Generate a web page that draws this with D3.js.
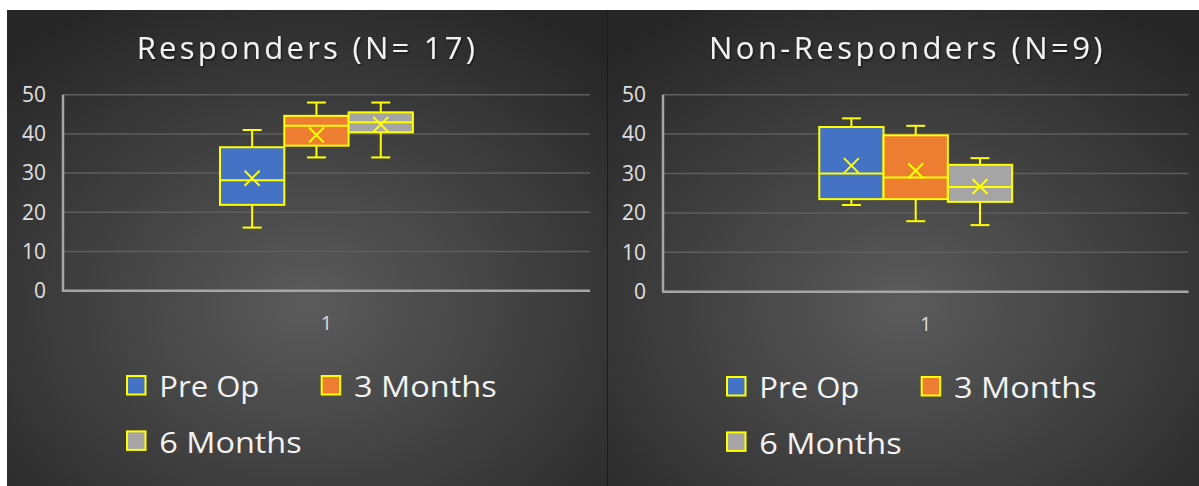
<!DOCTYPE html>
<html>
<head>
<meta charset="utf-8">
<script src="https://cdn.jsdelivr.net/npm/d3@7"></script>
<style>
  html, body { margin: 0; padding: 0; background: #ffffff; }
  svg { display: block; }
  text { font-family: "Open Sans", "DejaVu Sans", sans-serif; }
</style>
</head>
<body>
<svg id="chart" width="1199" height="486"></svg>
<script>
// ---------- data ----------
const categories = ["1"];
const seriesNames = ["Pre Op", "3 Months", "6 Months"];
const seriesColors = ["#4472C4", "#ED7D31", "#A5A5A5"];
const yTicks = [0, 10, 20, 30, 40, 50];

const panelTitles = ["Responders (N= 17)", "Non-Responders (N=9)"];

// Responders: five-number summary + mean per series
const respMin    = [16.1, 34.0, 34.0];
const respQ1     = [21.9, 37.0, 40.4];
const respMedian = [28.2, 42.1, 43.0];
const respQ3     = [36.6, 44.6, 45.5];
const respMax    = [41.0, 48.0, 48.0];
const respMean   = [28.7, 39.7, 42.4];

// Non-responders
const nonMin    = [22.0, 17.9, 16.9];
const nonQ1     = [23.5, 23.5, 22.8];
const nonMedian = [30.0, 29.0, 26.6];
const nonQ3     = [41.8, 39.7, 32.2];
const nonMax    = [44.0, 42.1, 33.9];
const nonMean   = [32.0, 30.7, 26.7];

const panelsData = [
  {title: panelTitles[0], min: respMin, q1: respQ1, med: respMedian, q3: respQ3, max: respMax, mean: respMean},
  {title: panelTitles[1], min: nonMin, q1: nonQ1, med: nonMedian, q3: nonQ3, max: nonMax, mean: nonMean}
];

// ---------- layout ----------
const svg = d3.select("#chart");
const defs = svg.append("defs");
const grad = defs.append("radialGradient").attr("id", "bg")
  .attr("cx", "50%").attr("cy", "62%").attr("r", "72%");
grad.append("stop").attr("offset", "0%").attr("stop-color", "#5b5b5b");
grad.append("stop").attr("offset", "100%").attr("stop-color", "#262626");

const shadow = defs.append("filter").attr("id", "tshadow")
  .attr("x", "-10%").attr("y", "-30%").attr("width", "120%").attr("height", "160%");
shadow.append("feDropShadow").attr("dx", 1).attr("dy", 1.5).attr("stdDeviation", 1.2)
  .attr("flood-color", "#000").attr("flood-opacity", 0.6);

const panels = [
  {x: 7, w: 601, titleX0: 136.7, titleX1: 475, legendDy: 0},
  {x: 608, w: 591, titleX0: 709, titleX1: 1102.5, legendDy: 1}
];

const plotTop = 94.7;
const yellow = "#FFFF00";

panels.forEach((p, pi) => {
  const d = panelsData[pi];
  const g = svg.append("g");
  g.append("rect").attr("x", p.x).attr("y", 10).attr("width", p.w).attr("height", 476)
    .attr("fill", "url(#bg)");

  const left = p.x + (pi === 0 ? 56 : 55), right = p.x + (pi === 0 ? 583 : 580.5);
  const bottom = pi === 0 ? 290.7 : 291.7;

  const y = d3.scaleLinear().domain([0, 50]).range([bottom, plotTop]);
  const x = d3.scaleBand().domain(categories).range([left, right]).padding(0);

  // title
  g.append("text")
    .attr("x", p.titleX0).attr("y", 59)
    .attr("font-size", 31).attr("fill", "#f2f2f2")
    .attr("textLength", p.titleX1 - p.titleX0).attr("lengthAdjust", "spacing")
    .attr("filter", "url(#tshadow)")
    .text(d.title);

  // gridlines
  g.selectAll("line.grid").data(yTicks.filter(t => t > 0)).enter().append("line")
    .attr("class", "grid")
    .attr("x1", left).attr("x2", right)
    .attr("y1", t => y(t)).attr("y2", t => y(t))
    .attr("stroke", "#5e5e5e").attr("stroke-width", 1.5);

  // y axis
  const yAxis = d3.axisLeft(y).tickValues(yTicks).tickSize(0).tickPadding(17);
  const ya = g.append("g").attr("transform", `translate(${left},0)`).call(yAxis);
  ya.select(".domain").remove();
  ya.selectAll("text").attr("font-size", 21).attr("fill", "#e0e0e0")
    .attr("font-family", "'Open Sans', sans-serif");

  // x axis
  const xAxis = d3.axisBottom(x).tickSize(0).tickPadding(25);
  const xa = g.append("g").attr("transform", `translate(0,${bottom})`).call(xAxis);
  xa.select(".domain").remove();
  xa.selectAll("text").attr("font-size", 20).attr("fill", "#d9d9d9")
    .attr("font-family", "'Open Sans', sans-serif");

  // axis lines
  g.append("line").attr("x1", left).attr("x2", left).attr("y1", plotTop).attr("y2", bottom)
    .attr("stroke", "#a6a6a6").attr("stroke-width", 2.5);
  g.append("line").attr("x1", left - 1).attr("x2", right).attr("y1", bottom).attr("y2", bottom)
    .attr("stroke", "#a6a6a6").attr("stroke-width", 2.5);

  // series band within category
  const cx = x(categories[0]) + x.bandwidth() / 2;
  const bw = 64.3;
  const groupStart = cx - 106.5;
  const xs = d3.scaleBand().domain(seriesNames)
    .range([groupStart, groupStart + bw * seriesNames.length]).padding(0);

  seriesNames.forEach((s, i) => {
    const bx = xs(s), w = xs.bandwidth(), mx = bx + w / 2;
    const sg = g.append("g");
    // whiskers
    sg.append("line").attr("x1", mx).attr("x2", mx).attr("y1", y(d.max[i])).attr("y2", y(d.q3[i]))
      .attr("stroke", yellow).attr("stroke-width", 2);
    sg.append("line").attr("x1", mx).attr("x2", mx).attr("y1", y(d.min[i])).attr("y2", y(d.q1[i]))
      .attr("stroke", yellow).attr("stroke-width", 2);
    sg.append("line").attr("x1", mx - 9.5).attr("x2", mx + 9.5).attr("y1", y(d.max[i])).attr("y2", y(d.max[i]))
      .attr("stroke", yellow).attr("stroke-width", 2);
    sg.append("line").attr("x1", mx - 9.5).attr("x2", mx + 9.5).attr("y1", y(d.min[i])).attr("y2", y(d.min[i]))
      .attr("stroke", yellow).attr("stroke-width", 2);
    // box
    sg.append("rect").attr("x", bx).attr("y", y(d.q3[i]))
      .attr("width", w).attr("height", y(d.q1[i]) - y(d.q3[i]))
      .attr("fill", seriesColors[i]).attr("stroke", yellow).attr("stroke-width", 2);
    // median
    sg.append("line").attr("x1", bx).attr("x2", bx + w).attr("y1", y(d.med[i])).attr("y2", y(d.med[i]))
      .attr("stroke", yellow).attr("stroke-width", 2);
    // mean X
    const my = y(d.mean[i]), r = 7.5;
    sg.append("path").attr("d", `M${mx - r},${my - r}L${mx + r},${my + r}M${mx - r},${my + r}L${mx + r},${my - r}`)
      .attr("stroke", yellow).attr("stroke-width", 2).attr("fill", "none");
  });

  // legend
  const legendItems = [
    {name: seriesNames[0], color: seriesColors[0], sx: 119, ty: 397.3, tw: 100},
    {name: seriesNames[1], color: seriesColors[1], sx: 313.7, ty: 397.3, tw: 142.7},
    {name: seriesNames[2], color: seriesColors[2], sx: 119, ty: 452.7, tw: 142.4}
  ];
  legendItems.forEach(it => {
    const sx = p.x + it.sx - (pi === 1 ? 1 : 0);
    const ty = it.ty + p.legendDy;
    g.append("rect").attr("x", sx + 1).attr("y", ty - 21.3)
      .attr("width", 18.5).attr("height", 18.5)
      .attr("fill", it.color).attr("stroke", yellow).attr("stroke-width", 2);
    g.append("text").attr("x", sx + 33.3).attr("y", ty)
      .attr("font-size", 29).attr("fill", "#f2f2f2")
      .attr("textLength", it.tw).attr("lengthAdjust", "spacingAndGlyphs")
      .text(it.name);
  });
});

// thin divider between the two panels
svg.append("line").attr("x1", 607.5).attr("x2", 607.5).attr("y1", 10).attr("y2", 486)
  .attr("stroke", "#1c1c1c").attr("stroke-width", 1);
</script>
</body>
</html>
